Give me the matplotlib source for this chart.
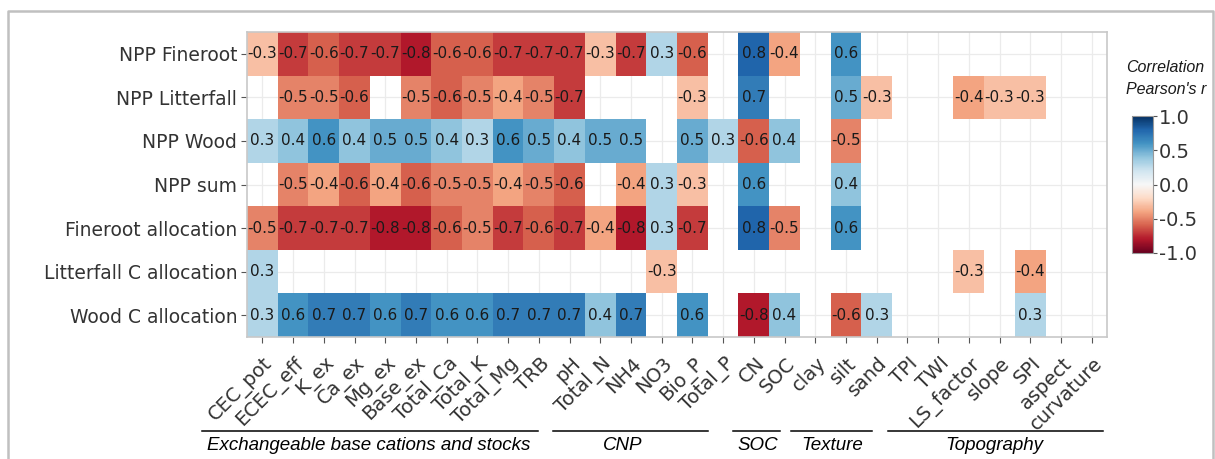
import matplotlib
matplotlib.use("Agg")
import matplotlib.pyplot as plt
import matplotlib.transforms as mtransforms
import numpy as np
from matplotlib.lines import Line2D

nan = np.nan

variables = [
    "CEC_pot", "ECEC_eff", "K_ex", "Ca_ex", "Mg_ex", "Base_ex", "Total_Ca",
    "Total_K", "Total_Mg", "TRB", "pH", "Total_N", "NH4", "NO3", "Bio_P",
    "Total_P", "CN", "SOC", "clay", "silt", "sand", "TPI", "TWI",
    "LS_factor", "slope", "SPI", "aspect", "curvature",
]
responses = [
    "NPP Fineroot", "NPP Litterfall", "NPP Wood", "NPP sum",
    "Fineroot allocation", "Litterfall C allocation", "Wood C allocation",
]

npp_fineroot = [-0.3, -0.7, -0.6, -0.7, -0.7, -0.8, -0.6, -0.6, -0.7, -0.7,
                -0.7, -0.3, -0.7, 0.3, -0.6, nan, 0.8, -0.4, nan, 0.6,
                nan, nan, nan, nan, nan, nan, nan, nan]
npp_litterfall = [nan, -0.5, -0.5, -0.6, nan, -0.5, -0.6, -0.5, -0.4, -0.5,
                  -0.7, nan, nan, nan, -0.3, nan, 0.7, nan, nan, 0.5,
                  -0.3, nan, nan, -0.4, -0.3, -0.3, nan, nan]
npp_wood = [0.3, 0.4, 0.6, 0.4, 0.5, 0.5, 0.4, 0.3, 0.6, 0.5,
            0.4, 0.5, 0.5, nan, 0.5, 0.3, -0.6, 0.4, nan, -0.5,
            nan, nan, nan, nan, nan, nan, nan, nan]
npp_sum = [nan, -0.5, -0.4, -0.6, -0.4, -0.6, -0.5, -0.5, -0.4, -0.5,
           -0.6, nan, -0.4, 0.3, -0.3, nan, 0.6, nan, nan, 0.4,
           nan, nan, nan, nan, nan, nan, nan, nan]
fineroot_alloc = [-0.5, -0.7, -0.7, -0.7, -0.8, -0.8, -0.6, -0.5, -0.7, -0.6,
                  -0.7, -0.4, -0.8, 0.3, -0.7, nan, 0.8, -0.5, nan, 0.6,
                  nan, nan, nan, nan, nan, nan, nan, nan]
litterfall_alloc = [0.3, nan, nan, nan, nan, nan, nan, nan, nan, nan,
                    nan, nan, nan, -0.3, nan, nan, nan, nan, nan, nan,
                    nan, nan, nan, -0.3, nan, -0.4, nan, nan]
wood_alloc = [0.3, 0.6, 0.7, 0.7, 0.6, 0.7, 0.6, 0.6, 0.7, 0.7,
              0.7, 0.4, 0.7, nan, 0.6, nan, -0.8, 0.4, nan, -0.6,
              0.3, nan, nan, nan, nan, 0.3, nan, nan]

groups = ["Exchangeable base cations and stocks", "CNP", "SOC", "Texture", "Topography"]

values = np.array([npp_fineroot, npp_litterfall, npp_wood, npp_sum,
                   fineroot_alloc, litterfall_alloc, wood_alloc])

W, H = 1215, 459
fig = plt.figure(figsize=(W / 100, H / 100), dpi=100)


def fx(px):
    return px / W


def fy(py):
    return 1 - py / H


ax = fig.add_axes([fx(247), fy(337), fx(1107) - fx(247), fy(32) - fy(337)])
cmap = plt.get_cmap("RdBu")
masked = np.ma.masked_invalid(values)
xe = np.arange(len(variables) + 1) - 0.5
ye = np.arange(len(responses) + 1) - 0.5
mesh = ax.pcolormesh(xe, ye, masked, cmap=cmap, vmin=-1, vmax=1, zorder=1)
ax.set_xlim(-0.5, len(variables) - 0.5)
ax.set_ylim(len(responses) - 0.5, -0.5)

for r in range(values.shape[0]):
    for c in range(values.shape[1]):
        v = values[r, c]
        if np.isnan(v):
            continue
        ax.text(c, r, f"{v:.1f}", ha="center", va="center",
                fontsize=11, color="#1a1a1a", zorder=3)

ax.set_axisbelow(True)
ax.grid(True, color="#ebebeb", linewidth=0.9)
ax.set_xticks(range(len(variables)))
ax.set_xticklabels(variables, rotation=45, ha="right", rotation_mode="anchor",
                   fontsize=14, color="#333333")
ax.set_yticks(range(len(responses)))
ax.set_yticklabels(responses, fontsize=13.5, color="#333333")
ax.tick_params(axis="both", length=4, width=0.8, color="#555555", pad=3)
# push the rotated labels a little further down, as ggplot does
shift = mtransforms.ScaledTranslation(1 / 100, -7 / 100, fig.dpi_scale_trans)
for lbl in ax.get_xticklabels():
    lbl.set_transform(lbl.get_transform() + shift)
for s in ax.spines.values():
    s.set_edgecolor("#c8c8c8")
    s.set_linewidth(1.2)

# colour bar
cax = fig.add_axes([fx(1132), fy(253), fx(1153) - fx(1132), fy(116) - fy(253)])
cb = fig.colorbar(mesh, cax=cax, ticks=[-1, -0.5, 0, 0.5, 1])
cb.ax.set_yticklabels(["-1.0", "-0.5", "0.0", "0.5", "1.0"], fontsize=14, color="#333333")
cb.ax.tick_params(length=3, width=0.8, color="#555555", pad=1)
cb.outline.set_edgecolor("#999999")
cb.outline.set_linewidth(0.8)
fig.text(fx(1126), fy(68), "Correlation", fontsize=11.5, style="italic",
         family="Liberation Sans", ha="left", va="center", color="#1a1a1a")
fig.text(fx(1126), fy(90), "Pearson's r", fontsize=11.5, style="italic",
         family="Liberation Sans", ha="left", va="center", color="#1a1a1a")

# group brackets under the x labels
spans = [(202, 538), (553, 708), (733, 780), (791, 872), (888, 1103)]
label_x = [369, 623, 758, 832, 994]
for name, (x0, x1), lx in zip(groups, spans, label_x):
    fig.add_artist(Line2D([fx(x0), fx(x1)], [fy(431), fy(431)],
                          color="black", linewidth=1.1))
    fig.text(fx(lx), fy(446), name, fontsize=13.5, style="italic",
             family="Liberation Sans", ha="center", va="center", color="black")

# outer frame (open at the bottom)
fig.add_artist(Line2D([fx(8), fx(8), fx(1213), fx(1213)],
                      [fy(H + 5), fy(11), fy(11), fy(H + 5)],
                      color="#c0c0c0", linewidth=1.8))

fig.savefig("out.png", dpi=100)
